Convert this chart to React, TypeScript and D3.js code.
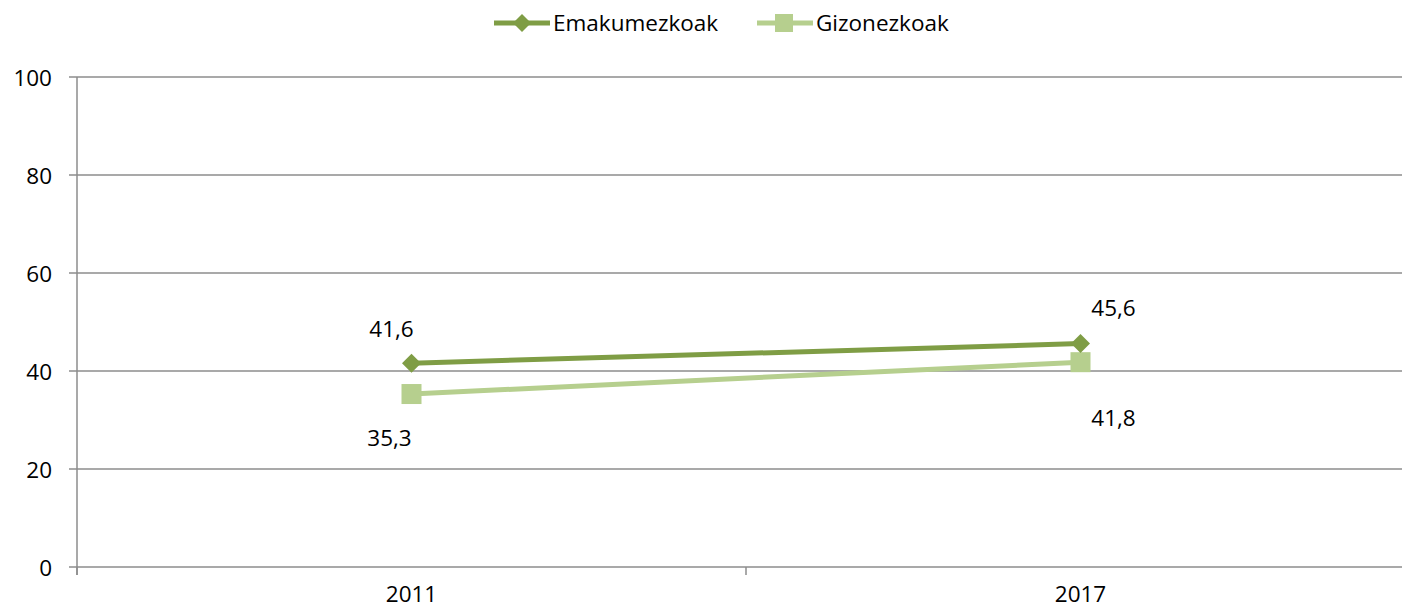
import React, { useEffect, useRef } from 'react'
import * as d3 from 'd3'

const years = ['2011', '2017']
const womenValues = [41.6, 45.6]
const menValues = [35.3, 41.8]
const yTicks = [0, 20, 40, 60, 80, 100]
const seriesNames = ['Emakumezkoak', 'Gizonezkoak']

const width = 1402
const height = 611
const darkGreen = '#7F9D45'
const lightGreen = '#B6CF8E'
const font = '"Open Sans", sans-serif'
const fontSize = '22.5px'

export default function App() {
  const ref = useRef<SVGSVGElement>(null)

  useEffect(() => {
    const svg = d3.select(ref.current)
    svg.selectAll('*').remove()

    const left = 77
    const top = 77
    const bottom = 567

    var x = d3.scaleBand().domain(years).range([left, 1415])
    var y = d3.scaleLinear().domain([0, 100]).range([bottom, top])

    // gridlines
    svg.append('g')
      .selectAll('line')
      .data(yTicks)
      .enter()
      .append('line')
      .attr('x1', left - 8)
      .attr('x2', width)
      .attr('y1', d => y(d))
      .attr('y2', d => y(d))
      .attr('stroke', '#8c8c8c')
      .attr('stroke-width', 1.5)

    // y labels
    svg.append('g')
      .selectAll('text')
      .data(yTicks)
      .enter()
      .append('text')
      .attr('x', 52)
      .attr('y', d => y(d) + 1)
      .attr('dy', '0.35em')
      .attr('text-anchor', 'end')
      .style('font-family', font)
      .style('font-size', fontSize)
      .attr('fill', '#000')
      .text(d => d)

    // vertical axis
    svg.append('line')
      .attr('x1', left).attr('x2', left)
      .attr('y1', top).attr('y2', bottom + 8)
      .attr('stroke', '#8c8c8c').attr('stroke-width', 1.5)

    // category ticks
    const edges = [left, ...years.map(d => (x(d) as number) + x.bandwidth())]
    svg.append('g')
      .selectAll('line')
      .data(edges)
      .enter()
      .append('line')
      .attr('x1', d => d).attr('x2', d => d)
      .attr('y1', bottom).attr('y2', bottom + 8)
      .attr('stroke', '#8c8c8c').attr('stroke-width', 1.5)

    svg.append('g')
      .selectAll('text')
      .data(years)
      .enter()
      .append('text')
      .attr('x', d => (x(d) as number) + x.bandwidth() / 2)
      .attr('y', 602)
      .attr('text-anchor', 'middle')
      .style('font-family', font)
      .style('font-size', fontSize)
      .text(d => d)

    const cx = (i: number) => (x(years[i]) as number) + x.bandwidth() / 2
    const line = d3.line<number>().x((d, i) => cx(i)).y(d => y(d))

    const diamond = (g: any, px: number, py: number, r: number) =>
      g.append('path')
        .attr('d', `M${px - r},${py} L${px},${py - r} L${px + r},${py} L${px},${py + r} Z`)
        .attr('fill', darkGreen)

    const square = (g: any, px: number, py: number, s: number) =>
      g.append('rect')
        .attr('x', px - s / 2).attr('y', py - s / 2)
        .attr('width', s).attr('height', s)
        .attr('fill', lightGreen)

    // men series
    svg.append('path')
      .datum(menValues)
      .attr('d', line)
      .attr('fill', 'none')
      .attr('stroke', lightGreen)
      .attr('stroke-width', 5)
    menValues.forEach((v, i) => square(svg, cx(i), y(v), 20))

    // women series
    svg.append('path')
      .datum(womenValues)
      .attr('d', line)
      .attr('fill', 'none')
      .attr('stroke', darkGreen)
      .attr('stroke-width', 5)
    womenValues.forEach((v, i) => diamond(svg, cx(i), y(v), 9.5))

    const fmt = (v: number) => v.toFixed(1).replace('.', ',')

    // data labels
    const womenOffsets = [[-20, -34], [33, -35]]
    const menOffsets = [[-22, 44], [33, 56]]
    womenValues.forEach((v, i) => {
      svg.append('text')
        .attr('x', cx(i) + womenOffsets[i][0]).attr('y', y(v) + womenOffsets[i][1])
        .attr('dy', '0.35em')
        .attr('text-anchor', 'middle')
        .style('font-family', font).style('font-size', fontSize)
        .text(fmt(v))
    })
    menValues.forEach((v, i) => {
      svg.append('text')
        .attr('x', cx(i) + menOffsets[i][0]).attr('y', y(v) + menOffsets[i][1])
        .attr('dy', '0.35em')
        .attr('text-anchor', 'middle')
        .style('font-family', font).style('font-size', fontSize)
        .text(fmt(v))
    })

    // legend
    const legend = svg.append('g')
    const items = [
      { name: seriesNames[0], color: darkGreen, x: 494 },
      { name: seriesNames[1], color: lightGreen, x: 757 },
    ]
    items.forEach((it, i) => {
      legend.append('line')
        .attr('x1', it.x).attr('x2', it.x + 56)
        .attr('y1', 23).attr('y2', 23)
        .attr('stroke', it.color).attr('stroke-width', 5)
      if (i === 0) diamond(legend, it.x + 28, 23, 9)
      else square(legend, it.x + 27, 23, 18)
      legend.append('text')
        .attr('x', it.x + 59).attr('y', 23)
        .attr('dy', '0.35em')
        .style('font-family', font).style('font-size', fontSize)
        .text(it.name)
    })
  }, [])

  return (
    <svg ref={ref} width={width} height={height}
      style={{ position: 'absolute', left: 0, top: 0, background: '#fff' }} />
  )
}
